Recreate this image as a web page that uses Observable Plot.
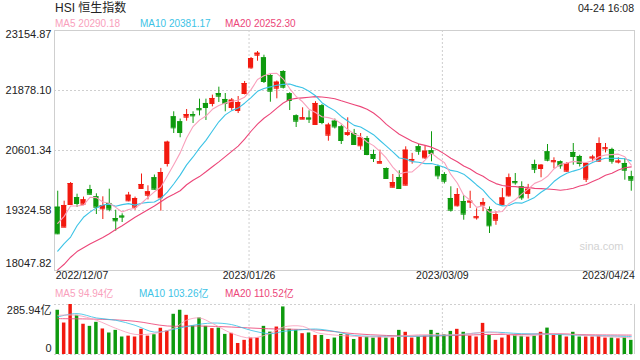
<!DOCTYPE html>
<html><head><meta charset="utf-8">
<script src="https://cdn.jsdelivr.net/npm/d3@7"></script>
<script src="https://cdn.jsdelivr.net/npm/@observablehq/plot@0.6"></script>
<style>
body{margin:0;background:#fff;}
#wrap{position:relative;width:640px;height:360px;overflow:hidden;font-family:Arial,"Liberation Sans","Noto Sans CJK SC",sans-serif;}
.t{position:absolute;white-space:nowrap;line-height:1;}
#main,#vol{position:absolute;left:0;}
#main{top:0px}
#vol{top:290px}
</style></head><body>
<div id="wrap">
 <div class="t" style="left:55px;top:2px;font-size:12px;color:#222">HSI 恒生指数</div>
 <div class="t" style="right:6px;top:3px;font-size:10.5px;color:#222">04-24 16:08</div>
 <div class="t" id="lg1" style="left:55px;top:18.7px;font-size:10px"></div>
 <div class="t" id="lg2" style="left:140px;top:18.7px;font-size:10px"></div>
 <div class="t" id="lg3" style="left:225px;top:18.7px;font-size:10px"></div>
 <div class="t" id="vl1" style="left:55px;top:288.7px;font-size:10px"></div>
 <div class="t" id="vl2" style="left:139px;top:288.7px;font-size:10px"></div>
 <div class="t" id="vl3" style="left:225px;top:288.7px;font-size:10px"></div>
 <div id="main"></div>
 <div id="vol"></div>
</div>
<script>
// ---- data ----
const opens = [19395,18970,19452,19601,19459,19771,19616,19361,19474,19154, 19205,19531,19395,19793,19650,20021,19595,20325,21318,21212, 21310,21367,21488,21602,21602,21814,21687,21516,21452,21814, 22361,22629,22574,22197,21927,22282,21808,21339,21268,21290, 21155,21553,20927,21225,21104,20941,20963,20702,20857,20516, 20331,20218,19820,20027,19863,20382,20680,20446,20595,20254, 20091,19580,19425,19516,19502,19169,19439,19346,19118,19450, 19637,19940,19829,19687,20303,20218,20573,20361,20361,20161, 20559,20474,19991,20440,20375,20637,20623,20354,20325,20042];
const highs = [19735,19523,19920,19672,19610,19860,19680,19616,19778,19331, 19254,19710,19610,20101,19850,20080,20220,20800,21425,21270, 21474,21425,21694,21694,21780,21949,21814,21708,21750,22070, 22580,22708,22629,22240,22080,22300,21830,21360,21510,21446, 21640,21580,21180,21270,21140,21297,21050,20963,20900,20608, 20608,20230,20091,20170,20680,20540,20730,20700,21000,20290, 20130,19829,19790,19640,19735,19360,19580,19400,19300,19793, 20100,20112,19935,19880,20395,20300,20729,20446,20380,20345, 20750,20500,20340,20500,20871,20750,20650,20446,20425,20160];
const lows = [18810,18960,19440,19389,19430,19650,19239,19133,19297,18884, 19069,19510,19330,19780,19550,19760,19310,20250,20963,20872, 21225,21176,21339,21240,21530,21623,21425,21446,21388,21785, 22331,22501,22027,21629,21701,21910,21452,21091,21260,21176, 21140,21150,20799,21060,20729,20900,20710,20608,20490,20346, 20320,20000,19806,19780,19850,20310,20500,20410,20361,19980, 19890,19290,19400,19118,19367,19120,19300,18835,19010,19430, 19610,19863,19540,19570,20110,20021,20361,20210,20203,20140, 20289,20250,19920,20361,20350,20550,20310,20315,19969,19735];
const closes = [18829,19431,19899,19473,19552,19671,19395,19431,19352,19105, 19183,19650,19580,19878,19722,19778,20133,20778,21084,20984, 21367,21339,21467,21516,21708,21757,21602,21672,21623,22027, 22559,22672,22070,21863,22055,21948,21665,21225,21297,21268, 21602,21197,21142,21104,20814,20978,20729,20871,20516,20431, 20361,20006,19920,19793,20608,20410,20586,20586,20538,20063, 19948,19331,19665,19247,19523,19190,19495,18999,19239,19591, 20020,19915,19595,19778,20203,20289,20395,20382,20276,20325, 20474,20325,20325,20461,20750,20658,20375,20375,20182,19969];
const volumes = [253,180,286,224,173,161,184,146,123,138, 100,105,100,144,105,113,150,134,230,253, 224,163,209,161,148,151,115,121,63,81, 94,94,161,128,157,272,144,138,119,123, 109,109,86,94,115,113,86,100,100,94, 100,94,94,138,127,94,100,104,138,121, 113,132,144,127,105,100,178,109,81,94, 113,109,104,100,105,127,151,109,115,100, 127,100,100,100,105,94,94,90,96,81];
const ma5 = [19050,19200,19420,19420,19437,19605,19598,19504,19480,19391, 19293,19344,19374,19479,19603,19722,19818,20058,20299,20551, 20869,21110,21248,21335,21479,21557,21610,21651,21672,21736, 21897,22111,22190,22238,22244,22122,21920,21751,21638,21481, 21411,21318,21301,21263,21172,21047,20953,20899,20782,20705, 20582,20437,20247,20102,20138,20147,20263,20397,20546,20437, 20344,20093,19909,19651,19543,19391,19424,19291,19289,19303, 19469,19553,19672,19780,19902,19956,20052,20209,20309,20333, 20370,20356,20345,20382,20467,20504,20514,20524,20468,20290];
const ma10 = [18460,18620,18760,19000,19180,19290,19380,19440,19460, 19414,19449,19471,19439,19480,19497,19507,19581,19716,19889, 20077,20295,20464,20653,20817,21015,21213,21360,21450,21504, 21608,21727,21860,21921,21955,21990,22009,22015,21971,21938, 21862,21767,21619,21526,21450,21326,21229,21136,21100,21022, 20938,20814,20695,20573,20442,20421,20365,20350,20322,20324, 20287,20246,20178,20153,20098,19990,19868,19759,19600,19470, 19423,19430,19488,19481,19535,19603,19712,19802,19941,20044, 20118,20163,20204,20277,20346,20400,20437,20435,20434,20425, 20381];
const ma20 = [18060,18180,18330,18450,18530,18610,18680,18750,18830,18920, 19000,19090,19180,19260,19340,19420,19510,19600,19670, 19745,19872,19968,20046,20148,20256,20360,20471,20583,20696, 20842,21011,21162,21287,21386,21503,21611,21688,21710,21721, 21735,21747,21740,21723,21703,21658,21619,21576,21535,21480, 21400,21290,21157,21050,20946,20874,20797,20743,20711,20673, 20613,20530,20437,20363,20270,20206,20116,20054,19961,19897, 19855,19838,19833,19817,19816,19796,19790,19781,19770,19757, 19770,19797,19846,19879,19940,20001,20075,20119,20188,20235, 20252];
const volMa5Idx = [0,3,6,9,12,15,18,20,22,24,27,30,33,35,38,40,41,46,51,56,62,67,72,77,82,89];
const volMa5 = [224,224,196,150,115,121,150,196,209,178,121,94,121,157,161,128,119,104,100,113,113,128,105,119,109,95];
const volMa10Idx = [0,3,6,9,12,15,18,21,24,27,30,33,35,38,40,43,46,51,56,62,67,72,77,82,89];
const volMa10 = [215,234,209,196,167,128,144,167,180,171,138,119,132,142,146,132,109,104,105,113,128,119,115,109,103];
const volMa20Idx = [0,7,12,17,22,27,32,38,41,46,51,56,62,67,72,77,82,89];
const volMa20 = [205,201,190,163,163,157,148,143,138,119,109,105,109,115,115,119,113,111];
const yTicks = [23154.87, 21878.10, 20601.34, 19324.58, 18047.82];
const volTicks = [285.94, 0];
const dateLabels = ["2022/12/07", "2023/01/26", "2023/03/09", "2023/04/24"];
const dateIdx = [0, 30, 60, 89];
const legendMain = [["MA5", "20290.18"], ["MA10", "20381.17"], ["MA20", "20252.30"]];
const legendVol = [["MA5", "94.94亿"], ["MA10", "103.26亿"], ["MA20", "110.52亿"]];

// ---- styles ----
const RED = "#f2190f", GREEN = "#0e9a0e";
const C5 = "#f9a0bc", C10 = "#3cc3e6", C20 = "#ec4679";
const FONT = 'Arial,"Liberation Sans","Noto Sans CJK SC",sans-serif';
const maColors = [C5, C10, C20];
["lg1","lg2","lg3"].forEach((id,k)=>{const e=document.getElementById(id);e.textContent=legendMain[k].join(" ");e.style.color=maColors[k];});
["vl1","vl2","vl3"].forEach((id,k)=>{const e=document.getElementById(id);e.textContent=legendVol[k].join(" ");e.style.color=maColors[k];});

const candles = d3.range(opens.length).map(i => ({
  i, open: opens[i], high: highs[i], low: lows[i], close: closes[i], vol: volumes[i],
  col: closes[i] >= opens[i] ? RED : GREEN
}));
const xDomain = [-0.5, opens.length - 0.5];
const grid = {stroke: "#cfcfcf", strokeDasharray: "2,2"};

const main = Plot.plot({
  width: 640, height: 290,
  marginTop: 30, marginBottom: 20, marginLeft: 54, marginRight: 6,
  x: {domain: xDomain, axis: null},
  y: {domain: [yTicks[4], yTicks[0]], axis: null},
  style: {fontFamily: FONT, fontSize: "11px", color: "#222", background: "transparent", overflow: "visible"},
  marks: [
    Plot.ruleY(yTicks.slice(1, 4), grid),
    Plot.ruleX(dateIdx.slice(1, 3), {dx: -2, stroke: "#cfcfcf", strokeDasharray: "2,2"}),
    Plot.frame({stroke: "#cfcfcf"}),
    Plot.ruleX(candles, {x: "i", y1: "low", y2: "high", stroke: "col", strokeWidth: 1}),
    Plot.rect(candles, {x1: d => d.i - 0.4, x2: d => d.i + 0.4, y1: "open", y2: "close", fill: "col"}),
    Plot.ruleY(candles, {x1: d => d.i - 0.4, x2: d => d.i + 0.4, y: "close", stroke: "col"}),
    Plot.ruleY(candles, {x1: d => d.i - 0.4, x2: d => d.i + 0.4, y: "open", stroke: "col"}),
    Plot.lineY(ma20, {stroke: C20, strokeWidth: 1.1}),
    Plot.lineY(ma10, {stroke: C10, strokeWidth: 1.1}),
    Plot.lineY(ma5, {stroke: C5, strokeWidth: 1.1}),
    Plot.text(yTicks.slice(1, 4), {y: d => d, text: d => d.toFixed(2), frameAnchor: "left", textAnchor: "end", dx: -3, fill: "#222"}),
    Plot.text(yTicks.slice(0, 1), {y: d => d, text: d => d.toFixed(2), frameAnchor: "left", textAnchor: "end", dx: -3, dy: 4, fill: "#222"}),
    Plot.text(yTicks.slice(4), {y: d => d, text: d => d.toFixed(2), frameAnchor: "left", textAnchor: "end", dx: -3, dy: -7, fill: "#222"}),
    Plot.text([0], {x: d => dateIdx[d], text: d => dateLabels[d], frameAnchor: "bottom", textAnchor: "start", dx: -2, dy: 8, fontSize: 10.5, fill: "#222"}),
    Plot.text([1, 2], {x: d => dateIdx[d], text: d => dateLabels[d], frameAnchor: "bottom", textAnchor: "middle", dx: -2, dy: 8, fontSize: 10.5, fill: "#222"}),
    Plot.text([3], {x: d => dateIdx[d], text: d => dateLabels[d], frameAnchor: "bottom", textAnchor: "end", dx: 3.5, dy: 8, fontSize: 10.5, fill: "#222"}),
    Plot.text(["sina.com"], {frameAnchor: "bottom-right", textAnchor: "end", dx: -11, dy: -21, fontSize: 11, fill: "#d3d3d3"})
  ]
});
document.getElementById("main").appendChild(main);

const vol = Plot.plot({
  width: 640, height: 70,
  marginTop: 14, marginBottom: 6, marginLeft: 54, marginRight: 6,
  x: {domain: xDomain, axis: null},
  y: {domain: [volTicks[1], volTicks[0]], axis: null},
  style: {fontFamily: FONT, fontSize: "11px", color: "#222", background: "transparent", overflow: "visible"},
  marks: [
    Plot.ruleY(volTicks, grid),
    Plot.ruleX(dateIdx.slice(1, 3), {dx: -2, stroke: "#cfcfcf", strokeDasharray: "2,2"}),
    Plot.ruleX([xDomain[1]], {stroke: "#cfcfcf"}),
    Plot.rectY(candles, {x1: d => d.i - 0.27, x2: d => d.i + 0.27, y: "vol", fill: "col"}),
    Plot.line(volMa20Idx, {x: d => d, y: (d, k) => volMa20[k], curve: "catmull-rom", stroke: C20, strokeWidth: 1, strokeOpacity: 0.85}),
    Plot.line(volMa10Idx, {x: d => d, y: (d, k) => volMa10[k], curve: "catmull-rom", stroke: C10, strokeWidth: 1, strokeOpacity: 0.85}),
    Plot.line(volMa5Idx, {x: d => d, y: (d, k) => volMa5[k], curve: "catmull-rom", stroke: C5, strokeWidth: 1, strokeOpacity: 0.85}),
    Plot.text(volTicks.slice(0, 1), {y: d => d, text: d => d + "亿", frameAnchor: "left", textAnchor: "end", dx: -3, dy: 6, fill: "#222"}),
    Plot.text(volTicks.slice(1), {y: d => d, text: d => String(d), frameAnchor: "left", textAnchor: "end", dx: -3, dy: -6, fill: "#222"})
  ]
});
document.getElementById("vol").appendChild(vol);
</script>
</body></html>
